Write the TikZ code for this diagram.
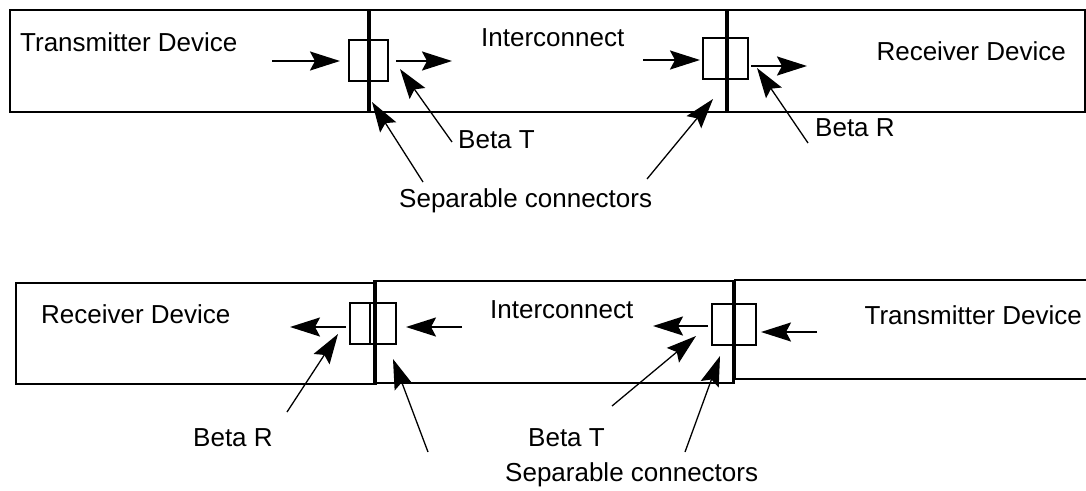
\documentclass[tikz,border=0pt]{standalone}
\usepackage{fontspec}
\setmainfont{Liberation Sans}
\usetikzlibrary{arrows.meta}
\begin{document}
\begin{tikzpicture}[x=1pt,y=-1pt,
  blk/.style={draw, line width=2pt, inner sep=0pt, anchor=north west},
  cbox/.style={draw, line width=2pt, inner sep=0pt, anchor=north west},
  wall/.style={line width=3.5pt},
  edge/.style={line width=2pt},
  txt/.style={inner sep=0pt, font=\fontsize{26}{30}\selectfont},
  flow/.style={line width=2pt, -{Stealth[length=30pt, width=19pt, inset=5pt]}},
  lead/.style={line width=1.3pt, -{Stealth[length=30pt, width=19pt, inset=5pt]}}]
\useasboundingbox (0,0) rectangle (1086,490);

% ---------- upper chain: transmitter -> interconnect -> receiver ----------
\node[blk, minimum width=358pt, minimum height=102pt] (utx) at (9,9) {};
\node[blk, minimum width=358pt, minimum height=102pt] (uic) at (367,9) {};
\node[blk, minimum width=359pt, minimum height=102pt] (urx) at (725,9) {};
\draw[wall] (utx.north east) -- (utx.south east);
\draw[line width=4pt] (uic.north east) -- (uic.south east);

\node[cbox, minimum width=39pt, minimum height=41pt] (uc1) at (348,39) {};
\node[cbox, minimum width=45pt, minimum height=41pt] (uc2) at (702,37) {};

\node[txt, anchor=base west] (utxl) at (20,51) {Transmitter Device};
\node[txt, anchor=base west] (uicl) at (481,46) {Interconnect};
\node[txt, anchor=base east] (urxl) at (1066,60) {Receiver Device};
\node[txt, anchor=base west] (ubt) at (458,148) {Beta T};
\node[txt, anchor=base west] (ubr) at (815,136) {Beta R};
\node[txt, anchor=base west] (usc) at (399,207) {Separable connectors};

\coordinate (uf1a) at (272,61);  \coordinate (uf1b) at (340,61);
\coordinate (uf2a) at (396,61);  \coordinate (uf2b) at (452,61);
\coordinate (uf3a) at (643,60);  \coordinate (uf3b) at (700,60);
\coordinate (uf4a) at (751,66);  \coordinate (uf4b) at (807,66);
\draw[flow] (uf1a) -- (uf1b);
\draw[flow] (uf2a) -- (uf2b);
\draw[flow] (uf3a) -- (uf3b);
\draw[flow] (uf4a) -- (uf4b);

\coordinate (ubtT) at (452,142); \coordinate (ubtH) at (400,69);
\coordinate (ubrT) at (808,143); \coordinate (ubrH) at (757,68);
\coordinate (us1T) at (423,182); \coordinate (us1H) at (372,102);
\coordinate (us2T) at (647,179); \coordinate (us2H) at (713,99);
\draw[lead] (ubtT) -- (ubtH);
\draw[lead] (ubrT) -- (ubrH);
\draw[lead] (us1T) -- (us1H);
\draw[lead] (us2T) -- (us2H);

% ---------- lower chain: receiver <- interconnect <- transmitter ----------
\node[blk, minimum width=360pt, minimum height=101pt] (lrx) at (15,282) {};
\node[blk, minimum width=357pt, minimum height=102pt] (lic) at (375,280) {};
\draw[wall] (lic.north west) -- (lic.south west);
\draw[line width=2.5pt] (lic.north east) -- (lic.south east);
\coordinate (ltxA) at (1088,280);
\coordinate (ltxB) at (1088,379);
\draw[edge] (ltxA) -| (735,379) -- (ltxB);

\node[cbox, minimum width=46pt, minimum height=41pt] (lc1) at (349,302) {};
\draw[edge] ([xshift=21pt]lc1.north west) -- ([xshift=21pt]lc1.south west);
\node[cbox, minimum width=44pt, minimum height=41pt] (lc2) at (711,303) {};

\node[txt, anchor=base west] (lrxl) at (41,323) {Receiver Device};
\node[txt, anchor=base west] (licl) at (490,318) {Interconnect};
\node[txt, anchor=base east] (ltxl) at (1082,324) {Transmitter Device};
\node[txt, anchor=base west] (lbr) at (193,446) {Beta R};
\node[txt, anchor=base west] (lbt) at (528,446) {Beta T};
\node[txt, anchor=base west] (lsc) at (505,481) {Separable connectors};

\coordinate (lf1a) at (346,327);  \coordinate (lf1b) at (290,327);
\coordinate (lf2a) at (462,327);  \coordinate (lf2b) at (406,327);
\coordinate (lf3a) at (708,326);  \coordinate (lf3b) at (653,326);
\coordinate (lf4a) at (817,332);  \coordinate (lf4b) at (761,332);
\draw[flow] (lf1a) -- (lf1b);
\draw[flow] (lf2a) -- (lf2b);
\draw[flow] (lf3a) -- (lf3b);
\draw[flow] (lf4a) -- (lf4b);

\coordinate (lbrT) at (287,412); \coordinate (lbrH) at (338,334);
\coordinate (lbtT) at (612,406); \coordinate (lbtH) at (696,336);
\coordinate (ls1T) at (428,452); \coordinate (ls1H) at (393,359);
\coordinate (ls2T) at (685,452); \coordinate (ls2H) at (720,356);
\draw[lead] (lbrT) -- (lbrH);
\draw[lead] (lbtT) -- (lbtH);
\draw[lead] (ls1T) -- (ls1H);
\draw[lead] (ls2T) -- (ls2H);
\end{tikzpicture}
\end{document}
